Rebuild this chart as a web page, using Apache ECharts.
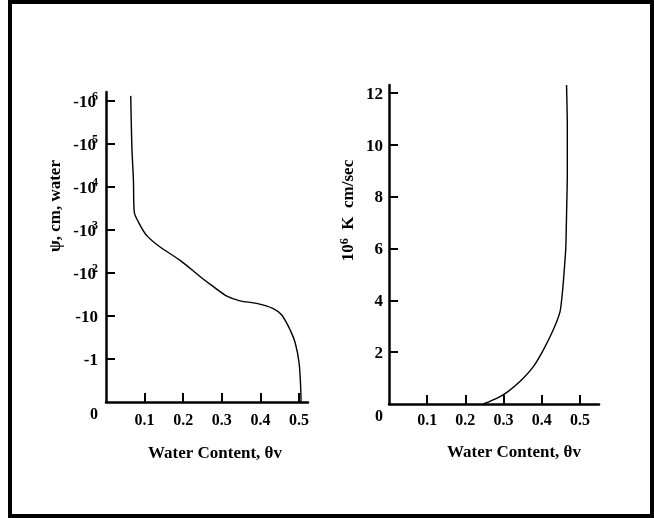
<!DOCTYPE html>
<html>
<head>
<meta charset="utf-8">
<script src="https://cdn.jsdelivr.net/npm/echarts@6/dist/echarts.min.js"></script>
<style>
html,body{margin:0;padding:0;background:#fff;}
#chart{width:654px;height:518px;}
</style>
</head>
<body>
<div id="chart"></div>
<script>
// ---- Data ----
// Left panel: water retention curve (theta vs. suction level; level 0 = 0, 1 = -1, k = -10^(k-1))
const retentionTheta = [0.064,0.067,0.071,0.073,0.084,0.105,0.140,0.192,0.244,0.278,0.313,0.347,0.390,0.433,0.455,0.477,0.490,0.500,0.504,0.505];
const retentionLevel = [7.11,5.92,5.15,4.42,4.18,3.87,3.60,3.29,2.91,2.68,2.46,2.35,2.29,2.17,2.02,1.67,1.37,0.90,0.35,0];
const psiTickLevels = [0,1,2,3,4,5,6,7];
const psiTickLabels = ['0','-1','-10','-10^2','-10^3','-10^4','-10^5','-10^6'];

// Right panel: hydraulic conductivity (theta vs 10^6 K, cm/sec)
const conductTheta = [0.247,0.282,0.308,0.347,0.378,0.404,0.430,0.448,0.454,0.458,0.463,0.465,0.467,0.467,0.465];
const conductK = [0,0.22,0.44,0.93,1.44,2.08,2.85,3.56,4.28,4.97,6.01,7.29,8.83,10.76,12.30];
const kTickValues = [0,2,4,6,8,10,12];
const thetaTicks = [0.1,0.2,0.3,0.4,0.5];

const xTitle = 'Water Content, θv';
const leftYTitle = 'ψ, cm, water';
const rightYTitle = '10{s|6}  K  cm/sec';

// ---- Chart ----
const FONT = 'Liberation Serif';
const zip = (a, b) => a.map((v, i) => [v, b[i]]);

const axisLineStyle = {show: true, lineStyle: {color: '#000', width: 2.5}};
const tickStyle = {show: true, inside: true, length: 9, lineStyle: {color: '#000', width: 2}};
const labelBase = {fontFamily: FONT, fontWeight: 'bold', fontSize: 16, color: '#000'};
const nameBase = {fontFamily: FONT, fontWeight: 'bold', fontSize: 17, color: '#000'};

function psiFormatter(v) {
  const i = psiTickLevels.indexOf(Math.round(v));
  const t = psiTickLabels[i];
  if (t === '0') return '{z|0}';
  if (t.indexOf('^') >= 0) {
    const p = t.split('^');
    return '{b|' + p[0] + '}{s|' + p[1] + '}';
  }
  return '{b|' + t + '}';
}
function kFormatter(v) {
  if (v === 0) return '{z|0}';
  return '{b|' + v + '}';
}
const richY = {
  b: {fontFamily: FONT, fontWeight: 'bold', fontSize: 17, color: '#000', lineHeight: 20, verticalAlign: 'bottom'},
  s: {fontFamily: FONT, fontWeight: 'bold', fontSize: 12, color: '#000', lineHeight: 20, verticalAlign: 'top', padding: [0,0,0,-4]},
  z: {fontFamily: FONT, fontWeight: 'bold', fontSize: 16, color: '#000', padding: [26,0,0,0]}
};

const chart = echarts.init(document.getElementById('chart'), null, {renderer: 'canvas'});
chart.setOption({
  backgroundColor: '#fff',
  animation: false,
  graphic: [{
    type: 'rect', shape: {x: 10, y: 2, width: 642, height: 514},
    style: {fill: 'none', stroke: '#000', lineWidth: 4}, silent: true
  }],
  grid: [
    {left: 106, top: 92, width: 202, height: 310},
    {left: 389, top: 85, width: 210, height: 319}
  ],
  xAxis: [
    {
      type: 'value', gridIndex: 0, min: 0, max: 0.523,
      axisLine: axisLineStyle,
      axisTick: Object.assign({}, tickStyle, {customValues: thetaTicks}),
      axisLabel: Object.assign({}, labelBase, {customValues: thetaTicks, margin: 11, formatter: v => v.toFixed(1)}),
      splitLine: {show: false},
      name: xTitle, nameLocation: 'middle', nameGap: 43,
      nameTextStyle: Object.assign({}, nameBase, {padding: [0,0,0,16], verticalAlign: 'top'})
    },
    {
      type: 'value', gridIndex: 1, min: 0, max: 0.55,
      axisLine: axisLineStyle,
      axisTick: Object.assign({}, tickStyle, {customValues: thetaTicks}),
      axisLabel: Object.assign({}, labelBase, {customValues: thetaTicks, margin: 9, formatter: v => v.toFixed(1)}),
      splitLine: {show: false},
      name: xTitle, nameLocation: 'middle', nameGap: 40,
      nameTextStyle: Object.assign({}, nameBase, {padding: [0,0,0,40], verticalAlign: 'top'})
    }
  ],
  yAxis: [
    {
      type: 'value', gridIndex: 0, min: 0, max: 7.2,
      axisLine: axisLineStyle,
      axisTick: Object.assign({}, tickStyle, {customValues: psiTickLevels.slice(1)}),
      axisLabel: {customValues: psiTickLevels, margin: 8, formatter: psiFormatter, rich: richY},
      splitLine: {show: false},
      name: leftYTitle, nameLocation: 'middle', nameRotate: 90, nameGap: 42,
      nameTextStyle: Object.assign({}, nameBase, {padding: [0,0,0,82]})
    },
    {
      type: 'value', gridIndex: 1, min: 0, max: 12.3,
      axisLine: axisLineStyle,
      axisTick: Object.assign({}, tickStyle, {customValues: kTickValues.slice(1)}),
      axisLabel: {customValues: kTickValues, margin: 6, formatter: kFormatter, rich: richY},
      splitLine: {show: false},
      name: rightYTitle, nameLocation: 'middle', nameRotate: 90, nameGap: 30,
      nameTextStyle: Object.assign({}, nameBase, {padding: [0,0,0,68],
        rich: {s: {fontFamily: FONT, fontWeight: 'bold', fontSize: 12, color: '#000', verticalAlign: 'top', lineHeight: 20}}})
    }
  ],
  series: [
    {
      type: 'line', xAxisIndex: 0, yAxisIndex: 0, data: zip(retentionTheta, retentionLevel),
      showSymbol: false, smooth: 0.3, clip: false,
      lineStyle: {color: '#000', width: 1.4}
    },
    {
      type: 'line', xAxisIndex: 1, yAxisIndex: 1, data: zip(conductTheta, conductK),
      showSymbol: false, smooth: 0.2, clip: false,
      lineStyle: {color: '#000', width: 1.4}
    }
  ]
});
</script>
</body>
</html>
